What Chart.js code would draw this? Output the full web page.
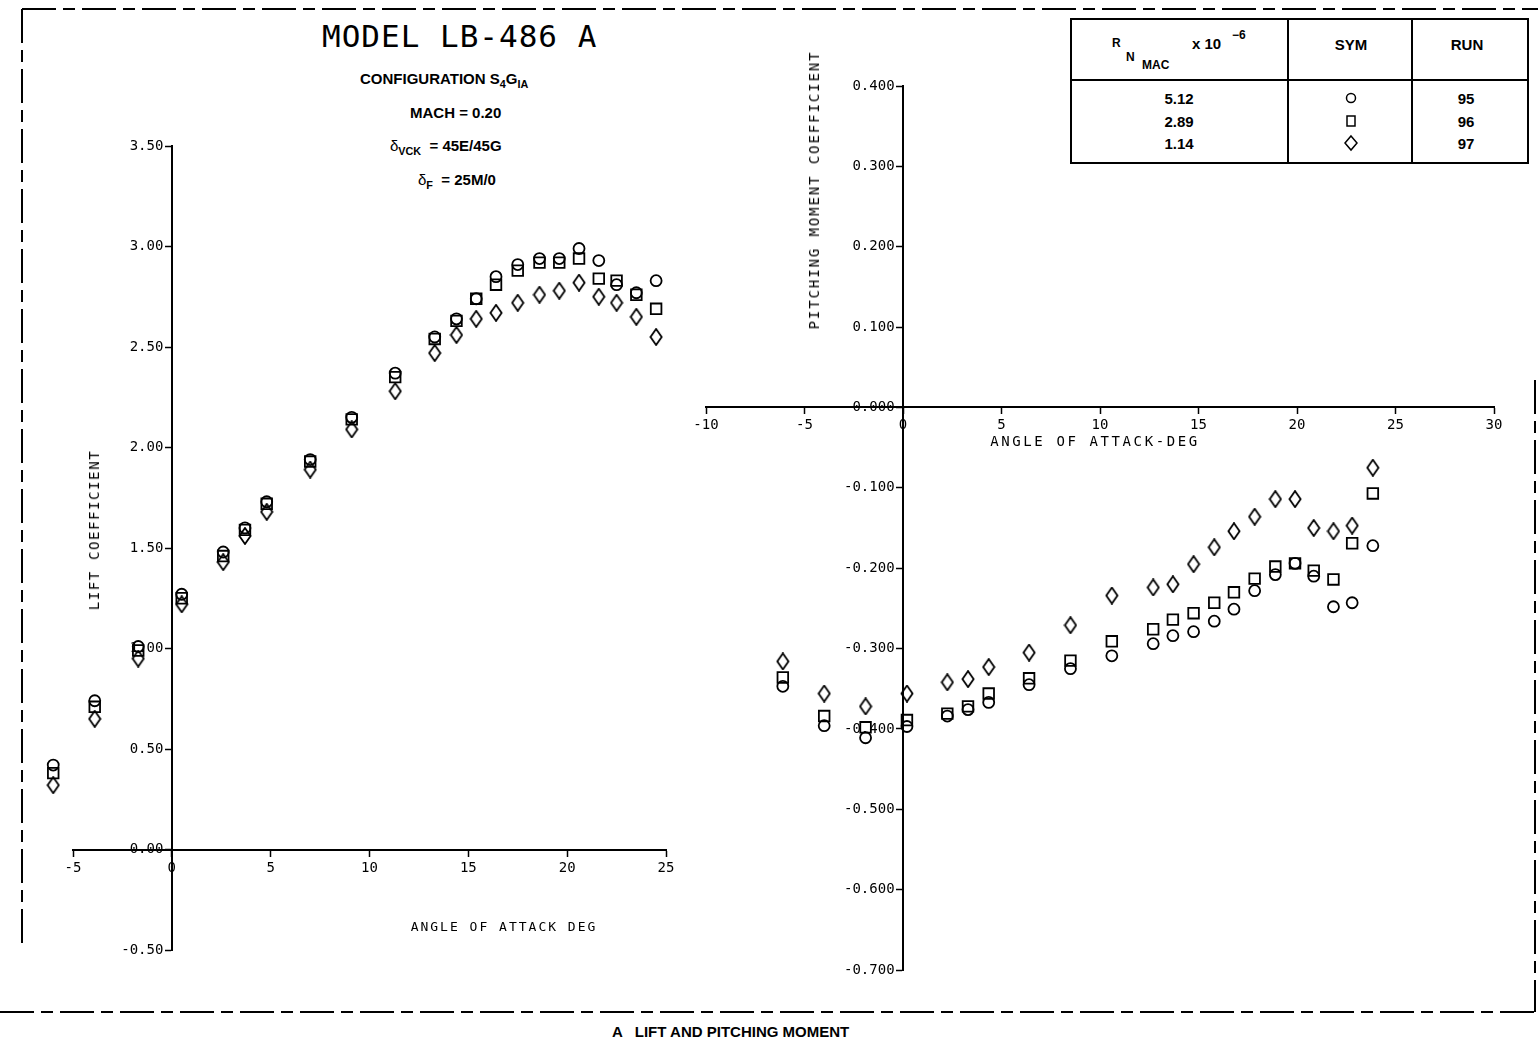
<!DOCTYPE html>
<html>
<head>
<meta charset="utf-8">
<title>Model LB-486 A - lift and pitching moment</title>
<script src="https://cdn.jsdelivr.net/npm/chart.js@4.4.1/dist/chart.umd.min.js"></script>
<style>
  html, body { margin: 0; padding: 0; background: #fff; }
  body { width: 1538px; height: 1041px; position: relative; overflow: hidden;
         font-family: "Liberation Sans", Arial, sans-serif; color: #000; }
  .abs { position: absolute; white-space: nowrap; }
  .mid { transform: translate(-50%, -50%); }
  .plot { position: absolute; }
  #liftBox { left: 43px; top: 116px; width: 653px; height: 864px; }
  #pitchBox { left: 676px; top: 56px; width: 848px; height: 944px; }
  .plotter { font-family: "DejaVu Sans Mono", monospace; font-size: 14px; }
  .hdr { font-weight: bold; font-size: 15px; }
  .cell { font-weight: bold; font-size: 15px; }
  .small { font-weight: bold; font-size: 12px; }
  sub { font-size: 72%; line-height: 0; }
</style>
</head>
<body>

<svg class="abs" style="left:0;top:0" width="1538" height="1041">
  <g stroke="#000" stroke-width="2" fill="none" stroke-dasharray="34 7 12 7">
    <line x1="22" y1="9" x2="1538" y2="9"/>
    <line x1="22" y1="9" x2="22" y2="950"/>
    <line x1="0" y1="1012" x2="1538" y2="1012"/>
    <line x1="1535" y1="380" x2="1535" y2="1012"/>
  </g>
  <!-- run table -->
  <g stroke="#000" stroke-width="2" fill="none">
    <rect x="1071" y="19" width="457" height="144"/>
    <line x1="1071" y1="80" x2="1528" y2="80"/>
    <line x1="1288" y1="19" x2="1288" y2="163"/>
    <line x1="1412" y1="19" x2="1412" y2="163"/>
  </g>
  <g stroke="#000" stroke-width="1.5" fill="none">
    <circle cx="1351" cy="98" r="4.5"/>
    <rect x="1347" y="116" width="8" height="10"/>
    <path d="M1351 136 L1357 143 L1351 150 L1345 143 Z"/>
  </g>
</svg>

<div class="abs plotter" style="left:322px;top:18px;font-size:31px;letter-spacing:1px;">MODEL LB-486 A</div>
<div class="abs hdr" style="left:360px;top:70px;">CONFIGURATION S<sub>4</sub>G<sub>IA</sub></div>
<div class="abs hdr" style="left:410px;top:104px;">MACH = 0.20</div>
<div class="abs hdr" style="left:390px;top:137px;"><span style="font-weight:normal">&delta;</span><sub>VCK</sub> &nbsp;= 45E/45G</div>
<div class="abs hdr" style="left:418px;top:171px;"><span style="font-weight:normal">&delta;</span><sub>F</sub> &nbsp;= 25M/0</div>

<div class="abs small" style="left:1112px;top:36px;">R</div>
<div class="abs small" style="left:1126px;top:50px;">N</div>
<div class="abs small" style="left:1142px;top:58px;">MAC</div>
<div class="abs cell" style="left:1192px;top:35px;">x 10</div>
<div class="abs small" style="left:1232px;top:28px;">&minus;6</div>
<div class="abs cell mid" style="left:1351px;top:44px;">SYM</div>
<div class="abs cell mid" style="left:1467px;top:44px;">RUN</div>
<div class="abs cell mid" style="left:1179px;top:98px;">5.12</div>
<div class="abs cell mid" style="left:1179px;top:121px;">2.89</div>
<div class="abs cell mid" style="left:1179px;top:143px;">1.14</div>
<div class="abs cell mid" style="left:1466px;top:98px;">95</div>
<div class="abs cell mid" style="left:1466px;top:121px;">96</div>
<div class="abs cell mid" style="left:1466px;top:143px;">97</div>

<div class="plot" id="liftBox"><canvas id="liftChart"></canvas></div>
<div class="plot" id="pitchBox"><canvas id="pitchChart"></canvas></div>

<div class="abs plotter" style="left:94px;top:530px;transform:translate(-50%,-50%) rotate(-90deg);letter-spacing:1.6px;">LIFT COEFFICIENT</div>
<div class="abs plotter mid" style="left:504px;top:926px;font-size:13px;letter-spacing:2px;">ANGLE OF ATTACK DEG</div>
<div class="abs plotter mid" style="left:1095px;top:441px;letter-spacing:2.6px;">ANGLE OF ATTACK-DEG</div>
<div class="abs plotter" style="left:814px;top:190px;transform:translate(-50%,-50%) rotate(-90deg);letter-spacing:1.9px;">PITCHING MOMENT COEFFICIENT</div>

<div class="abs hdr" style="left:612px;top:1023px;">A &nbsp; LIFT AND PITCHING MOMENT</div>

<script>
// angle of attack (deg) for each test point, lift plot
var alphaLift = [-6.0, -3.9, -1.7, 0.5, 2.6, 3.7, 4.8, 7.0, 9.1, 11.3, 13.3,
  14.4, 15.4, 16.4, 17.5, 18.6, 19.6, 20.6, 21.6, 22.5, 23.5, 24.5];

// lift coefficient, runs 95 / 96 / 97
var clRun95 = [0.42, 0.74, 1.01, 1.27, 1.48, 1.60, 1.73, 1.94, 2.15, 2.37, 2.55,
  2.64, 2.74, 2.85, 2.91, 2.94, 2.94, 2.99, 2.93, 2.81, 2.77, 2.83];
var clRun96 = [0.38, 0.71, 0.99, 1.25, 1.46, 1.59, 1.72, 1.93, 2.14, 2.35, 2.54,
  2.63, 2.74, 2.81, 2.88, 2.92, 2.92, 2.94, 2.84, 2.83, 2.76, 2.69];
var clRun97 = [0.32, 0.65, 0.95, 1.22, 1.43, 1.56, 1.68, 1.89, 2.09, 2.28, 2.47,
  2.56, 2.64, 2.67, 2.72, 2.76, 2.78, 2.82, 2.75, 2.72, 2.65, 2.55];

// angle of attack (deg), pitching moment plot
var alphaPitch = [-6.1, -4.0, -1.9, 0.2, 2.25, 3.3, 4.35, 6.4, 8.5, 10.6, 12.7,
  13.7, 14.75, 15.8, 16.8, 17.85, 18.9, 19.9, 20.85, 21.85, 22.8, 23.85];

// pitching moment coefficient, runs 95 / 96 / 97
var cmRun95 = [-0.347, -0.396, -0.411, -0.397, -0.384, -0.376, -0.367, -0.345, -0.325, -0.309, -0.294,
  -0.284, -0.279, -0.266, -0.251, -0.228, -0.208, -0.194, -0.210, -0.248, -0.243, -0.172];
var cmRun96 = [-0.336, -0.384, -0.398, -0.389, -0.381, -0.372, -0.356, -0.337, -0.315, -0.291, -0.276,
  -0.264, -0.256, -0.243, -0.230, -0.213, -0.198, -0.194, -0.203, -0.214, -0.169, -0.107];
var cmRun97 = [-0.316, -0.356, -0.372, -0.356, -0.342, -0.338, -0.323, -0.305, -0.271, -0.234, -0.224,
  -0.220, -0.195, -0.174, -0.154, -0.136, -0.114, -0.114, -0.150, -0.154, -0.147, -0.075];

var runLabels = ["RUN 95", "RUN 96", "RUN 97"];

// tall hollow diamond, the plotter's symbol for run 97
function diamondSymbol() {
  var c = document.createElement("canvas");
  c.width = 14;
  c.height = 18;
  var g = c.getContext("2d");
  g.strokeStyle = "#000";
  g.lineWidth = 1.8;
  g.beginPath();
  g.moveTo(7, 1);
  g.lineTo(12.6, 9);
  g.lineTo(7, 17);
  g.lineTo(1.4, 9);
  g.closePath();
  g.stroke();
  return c;
}

function pairs(xs, ys) {
  return xs.map(function (x, i) {
    return { x: x, y: ys[i] };
  });
}

function runSets(xs, a, b, c) {
  var diamond = diamondSymbol();
  var base = { showLine: false, borderColor: "#000", backgroundColor: "rgba(0,0,0,0)",
    borderWidth: 1.8, clip: false };
  return [
    Object.assign({}, base, { label: runLabels[0], data: pairs(xs, a), pointStyle: "circle", pointRadius: 5.5 }),
    Object.assign({}, base, { label: runLabels[1], data: pairs(xs, b), pointStyle: "rect", pointRadius: 7.5 }),
    Object.assign({}, base, { label: runLabels[2], data: pairs(xs, c), pointStyle: diamond, pointRadius: 7 }),
  ];
}

// points left of the -5 deg end of the lift axis are skipped by the
// point element, so draw those again without the chart-area test
var offAxisPoints = {
  id: "offAxisPoints",
  afterDatasetsDraw: function (chart) {
    var a = chart.chartArea;
    var wide = { left: -1e4, top: -1e4, right: 1e4, bottom: 1e4 };
    chart.data.datasets.forEach(function (ds, i) {
      chart.getDatasetMeta(i).data.forEach(function (pt) {
        if (pt.x < a.left || pt.x > a.right || pt.y < a.top || pt.y > a.bottom) {
          pt.draw(chart.ctx, wide);
        }
      });
    });
  },
};

// y labels sit right-aligned on the axis line, so pad them with a space
function fmt(digits, pad) {
  return function (v) {
    if (Math.abs(v) < 1e-9) v = 0;
    return v.toFixed(digits) + pad;
  };
}

var tickFont = { family: "DejaVu Sans Mono", size: 14 };

function crossedAxes(xMin, xMax, yMin, yMax, yStep, yDigits, xDash) {
  return {
    x: {
      type: "linear",
      position: { y: 0 },
      min: xMin,
      max: xMax,
      ticks: { stepSize: 5, color: "#000", font: tickFont, padding: 4, maxRotation: 0,
        callback: fmt(0, "") },
      grid: { drawOnChartArea: false, drawTicks: true, tickLength: 6, tickColor: "#000", tickWidth: 1.5 },
      border: { display: true, color: "#000", width: 2, dash: xDash },
    },
    y: {
      type: "linear",
      position: { x: 0 },
      min: yMin,
      max: yMax,
      ticks: { stepSize: yStep, color: "#000", font: tickFont, padding: 3, callback: fmt(yDigits, " ") },
      grid: { drawOnChartArea: false, drawTicks: true, tickLength: 6, tickColor: "#000", tickWidth: 1.5 },
      border: { display: true, color: "#000", width: 2, dash: [40, 5] },
    },
  };
}

function commonOptions(scales) {
  return {
    responsive: true,
    maintainAspectRatio: false,
    animation: false,
    layout: { padding: 30 },
    plugins: { legend: { display: false }, tooltip: { enabled: false } },
    scales: scales,
  };
}

new Chart(document.getElementById("liftChart"), {
  type: "scatter",
  data: { datasets: runSets(alphaLift, clRun95, clRun96, clRun97) },
  options: commonOptions(crossedAxes(-5, 25, -0.5, 3.5, 0.5, 2, [18, 8])),
  plugins: [offAxisPoints],
});

new Chart(document.getElementById("pitchChart"), {
  type: "scatter",
  data: { datasets: runSets(alphaPitch, cmRun95, cmRun96, cmRun97) },
  options: commonOptions(crossedAxes(-10, 30, -0.7, 0.4, 0.1, 3, [60, 4])),
  plugins: [offAxisPoints],
});
</script>
</body>
</html>
